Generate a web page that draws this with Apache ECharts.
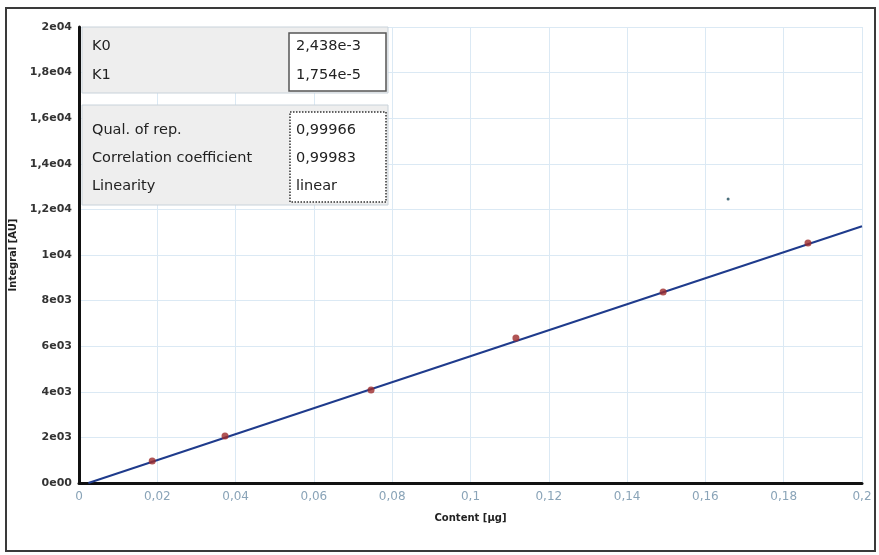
<!DOCTYPE html>
<html><head><meta charset="utf-8">
<script src="https://cdn.jsdelivr.net/npm/echarts@6/dist/echarts.min.js"></script>
<style>html,body{margin:0;padding:0;background:#fff}#c{width:879px;height:555px}</style>
</head><body><div id="c"></div>
<script>
// Data
const contentX = [0.0187, 0.0373, 0.0746, 0.1116, 0.1492, 0.1862];
const integralY = [965, 2060, 4080, 6360, 8380, 10530];
const fitLineX = [0.0024, 0.2];
const fitLineY = [0, 11260];
const strayX = [0.1658];
const strayY = [12460];
const yTickValues = [0, 2000, 4000, 6000, 8000, 10000, 12000, 14000, 16000, 18000, 20000];
const yTickLabels = ['0e00', '2e03', '4e03', '6e03', '8e03', '1e04', '1,2e04', '1,4e04', '1,6e04', '1,8e04', '2e04'];
const paramNames = ['K0', 'K1'];
const paramValues = ['2,438e-3', '1,754e-5'];
const statNames = ['Qual. of rep.', 'Correlation coefficient', 'Linearity'];
const statValues = ['0,99966', '0,99983', 'linear'];

const chart = echarts.init(document.getElementById('c'));
const font = 'Tahoma, "DejaVu Sans", sans-serif';

const graphics = [
  {type:'rect', shape:{x:6, y:8, width:869, height:543}, style:{fill:'none', stroke:'#3a3a3a', lineWidth:2}, z:100},
  {type:'rect', shape:{x:82, y:27, width:306, height:66}, style:{fill:'#eeeeee', stroke:'#c8d2da', lineWidth:1}, z:50},
  {type:'rect', shape:{x:289, y:33, width:97, height:58}, style:{fill:'#ffffff', stroke:'#555', lineWidth:1.5}, z:51},
  {type:'rect', shape:{x:82, y:105, width:306, height:100}, style:{fill:'#eeeeee', stroke:'#c8d2da', lineWidth:1}, z:50},
  {type:'rect', shape:{x:290, y:112, width:96, height:90}, style:{fill:'#ffffff', stroke:'#333', lineWidth:1.5, lineDash:[1.5,1.5]}, z:51}
];
paramNames.forEach((n,i)=>{
  graphics.push({type:'text', x:92, y:46+i*29, style:{text:n, font:'14.5px '+font, fill:'#222', textVerticalAlign:'middle'}, z:52});
  graphics.push({type:'text', x:296, y:46+i*29, style:{text:paramValues[i], font:'14.5px '+font, fill:'#222', textVerticalAlign:'middle'}, z:52});
});
statNames.forEach((n,i)=>{
  graphics.push({type:'text', x:92, y:130+i*28, style:{text:n, font:'14.5px '+font, fill:'#222', textVerticalAlign:'middle'}, z:52});
  graphics.push({type:'text', x:296, y:130+i*28, style:{text:statValues[i], font:'14.5px '+font, fill:'#222', textVerticalAlign:'middle'}, z:52});
});

chart.setOption({
  animation:false,
  backgroundColor:'#ffffff',
  grid:{left:79, right:17, top:27, bottom:72},
  xAxis:{
    type:'value', min:0, max:0.2, interval:0.02,
    name:'Content [µg]', nameLocation:'middle', nameGap:30,
    nameTextStyle:{fontSize:10, color:'#222', fontFamily:font, fontWeight:'bold'},
    axisLine:{show:true, lineStyle:{color:'#111', width:3}},
    axisTick:{show:false},
    axisLabel:{fontSize:12, color:'#8aa4b8', fontFamily:font, margin:8,
      formatter:v=>String(Math.round(v*100)/100).replace('.', ',')},
    splitLine:{show:true, lineStyle:{color:'#dbe9f4', width:1}}
  },
  yAxis:{
    type:'value', min:0, max:20000, interval:2000,
    name:'Integral [AU]', nameLocation:'middle', nameGap:60, nameRotate:90,
    nameTextStyle:{fontSize:10, color:'#222', fontFamily:font, fontWeight:'bold'},
    axisLine:{show:true, lineStyle:{color:'#111', width:3}},
    axisTick:{show:false},
    axisLabel:{fontSize:11, color:'#333', fontFamily:font, fontWeight:'bold', margin:7,
      formatter:v=>{const i=yTickValues.indexOf(v); return i>=0?yTickLabels[i]:'';}},
    splitLine:{show:true, lineStyle:{color:'#dbe9f4', width:1}}
  },
  series:[
    {type:'line', data:fitLineX.map((x,i)=>[x,fitLineY[i]]), symbol:'none',
     lineStyle:{color:'#1f3b8c', width:2}, z:3},
    {type:'scatter', data:contentX.map((x,i)=>[x,integralY[i]]), symbol:'circle', symbolSize:7,
     itemStyle:{color:'#9e2a2a'}, z:4},
    {type:'scatter', data:strayX.map((x,i)=>[x,strayY[i]]), symbol:'circle', symbolSize:3,
     itemStyle:{color:'#1e4a5a'}, z:4}
  ],
  graphic:graphics
});
</script></body></html>
